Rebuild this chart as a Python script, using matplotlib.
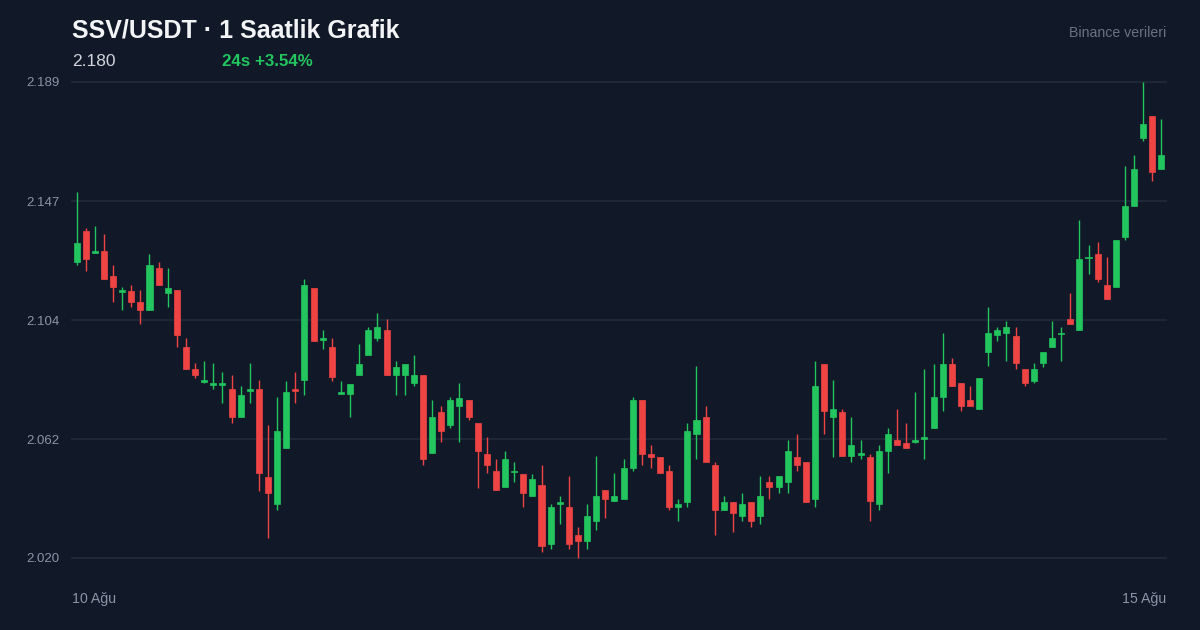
import matplotlib
matplotlib.use("Agg")
import matplotlib.pyplot as plt
from matplotlib.patches import Rectangle
import numpy as np

# ---- data (1h candles, SSV/USDT) ----
opens = [2.1252, 2.1361, 2.1284, 2.1290, 2.1200, 2.1143, 2.1149, 2.1110, 2.1081, 2.1230,
         2.1141, 2.1151, 2.0950, 2.0870, 2.0824, 2.0814, 2.0814, 2.0800, 2.0701, 2.0793,
         2.0800, 2.0489, 2.0392, 2.0592, 2.0800, 2.0832, 2.1160, 2.0974, 2.0949, 2.0784,
         2.0781, 2.0851, 2.0921, 2.0981, 2.1010, 2.0851, 2.0851, 2.0820, 2.0850, 2.0572,
         2.0720, 2.0671, 2.0741, 2.0760, 2.0679, 2.0569, 2.0510, 2.0451, 2.0504, 2.0500,
         2.0421, 2.0459, 2.0251, 2.0391, 2.0380, 2.0281, 2.0262, 2.0332, 2.0441, 2.0402,
         2.0411, 2.0521, 2.0760, 2.0569, 2.0560, 2.0510, 2.0382, 2.0400, 2.0641, 2.0700,
         2.0530, 2.0371, 2.0400, 2.0350, 2.0400, 2.0350, 2.0470, 2.0451, 2.0471, 2.0560,
         2.0540, 2.0411, 2.0890, 2.0702, 2.0720, 2.0562, 2.0565, 2.0560, 2.0392, 2.0581,
         2.0620, 2.0610, 2.0614, 2.0623, 2.0661, 2.0772, 2.0889, 2.0820, 2.0761, 2.0730,
         2.0932, 2.0991, 2.1000, 2.0989, 2.0870, 2.0830, 2.0891, 2.0950, 2.0994, 2.1050,
         2.1011, 2.1264, 2.1279, 2.1169, 2.1161, 2.1341, 2.1451, 2.1691, 2.1770, 2.1581]
highs = [2.1500, 2.1371, 2.1380, 2.1350, 2.1240, 2.1161, 2.1169, 2.1151, 2.1279, 2.1250,
         2.1230, 2.1152, 2.0980, 2.0891, 2.0900, 2.0891, 2.0861, 2.0850, 2.0811, 2.0891,
         2.0831, 2.0671, 2.0771, 2.0830, 2.0859, 2.1191, 2.1160, 2.1010, 2.0980, 2.0830,
         2.0819, 2.0960, 2.1020, 2.1070, 2.1050, 2.0901, 2.0890, 2.0921, 2.0850, 2.0761,
         2.0741, 2.0771, 2.0820, 2.0760, 2.0679, 2.0630, 2.0551, 2.0580, 2.0540, 2.0500,
         2.0500, 2.0530, 2.0391, 2.0420, 2.0490, 2.0310, 2.0391, 2.0561, 2.0441, 2.0501,
         2.0551, 2.0771, 2.0760, 2.0600, 2.0560, 2.0530, 2.0410, 2.0681, 2.0882, 2.0740,
         2.0540, 2.0420, 2.0400, 2.0430, 2.0400, 2.0491, 2.0491, 2.0490, 2.0620, 2.0640,
         2.0540, 2.0901, 2.0890, 2.0831, 2.0729, 2.0701, 2.0620, 2.0571, 2.0600, 2.0661,
         2.0730, 2.0679, 2.0790, 2.0870, 2.0890, 2.1000, 2.0910, 2.0820, 2.0811, 2.0840,
         2.1091, 2.1019, 2.1041, 2.1020, 2.0870, 2.0891, 2.0930, 2.1042, 2.1020, 2.1140,
         2.1400, 2.1310, 2.1321, 2.1270, 2.1330, 2.1591, 2.1631, 2.1890, 2.1770, 2.1760]
lows = [2.1241, 2.1220, 2.1282, 2.1191, 2.1110, 2.1081, 2.1090, 2.1031, 2.1081, 2.1170,
        2.1090, 2.0950, 2.0870, 2.0839, 2.0820, 2.0800, 2.0750, 2.0681, 2.0701, 2.0750,
        2.0439, 2.0271, 2.0371, 2.0592, 2.0752, 2.0780, 2.0972, 2.0941, 2.0830, 2.0784,
        2.0702, 2.0851, 2.0921, 2.0972, 2.0851, 2.0780, 2.0780, 2.0811, 2.0531, 2.0572,
        2.0611, 2.0661, 2.0611, 2.0691, 2.0450, 2.0501, 2.0442, 2.0451, 2.0471, 2.0381,
        2.0421, 2.0222, 2.0231, 2.0322, 2.0231, 2.0200, 2.0231, 2.0301, 2.0341, 2.0402,
        2.0411, 2.0510, 2.0530, 2.0521, 2.0501, 2.0372, 2.0330, 2.0381, 2.0551, 2.0541,
        2.0282, 2.0371, 2.0291, 2.0332, 2.0311, 2.0322, 2.0411, 2.0431, 2.0431, 2.0510,
        2.0400, 2.0381, 2.0641, 2.0560, 2.0561, 2.0541, 2.0551, 2.0330, 2.0372, 2.0501,
        2.0600, 2.0591, 2.0610, 2.0551, 2.0661, 2.0721, 2.0811, 2.0721, 2.0741, 2.0730,
        2.0881, 2.0972, 2.0901, 2.0871, 2.0811, 2.0820, 2.0879, 2.0950, 2.0901, 2.1031,
        2.1011, 2.1210, 2.1180, 2.1121, 2.1161, 2.1330, 2.1451, 2.1682, 2.1540, 2.1581]
closes = [2.1320, 2.1262, 2.1290, 2.1191, 2.1161, 2.1151, 2.1110, 2.1081, 2.1239, 2.1170,
          2.1160, 2.0991, 2.0870, 2.0850, 2.0831, 2.0820, 2.0820, 2.0701, 2.0779, 2.0800,
          2.0501, 2.0432, 2.0650, 2.0790, 2.0792, 2.1169, 2.0972, 2.0980, 2.0842, 2.0790,
          2.0819, 2.0889, 2.1010, 2.1020, 2.0851, 2.0879, 2.0890, 2.0850, 2.0552, 2.0701,
          2.0651, 2.0760, 2.0769, 2.0701, 2.0581, 2.0531, 2.0442, 2.0551, 2.0510, 2.0431,
          2.0480, 2.0243, 2.0380, 2.0400, 2.0251, 2.0261, 2.0350, 2.0420, 2.0411, 2.0420,
          2.0520, 2.0760, 2.0571, 2.0560, 2.0501, 2.0381, 2.0391, 2.0650, 2.0690, 2.0541,
          2.0372, 2.0400, 2.0361, 2.0391, 2.0332, 2.0420, 2.0451, 2.0490, 2.0580, 2.0530,
          2.0400, 2.0811, 2.0721, 2.0730, 2.0561, 2.0600, 2.0571, 2.0402, 2.0580, 2.0640,
          2.0600, 2.0591, 2.0620, 2.0630, 2.0771, 2.0890, 2.0811, 2.0741, 2.0741, 2.0840,
          2.1000, 2.1010, 2.1020, 2.0891, 2.0820, 2.0870, 2.0930, 2.0980, 2.1000, 2.1031,
          2.1261, 2.1270, 2.1191, 2.1121, 2.1330, 2.1450, 2.1580, 2.1740, 2.1572, 2.1630]

y_tick_labels = ["2.020", "2.062", "2.104", "2.147", "2.189"]
x_labels = ["10 Ağu", "15 Ağu"]
title = "SSV/USDT · 1 Saatlik Grafik"
last_price = "2.180"
change_txt = "24s +3.54%"
source_txt = "Binance verileri"

# ---- style ----
BG = "#111827"
GRID = "#1f2937"
UP = "#22c55e"
DOWN = "#ef4444"
TICK = "#8b95a5"
FONT = ["Liberation Sans", "DejaVu Sans"]
plt.rcParams["font.family"] = FONT

W, H = 1200, 630
fig = plt.figure(figsize=(W / 100, H / 100), dpi=100, facecolor=BG)
ax_l, ax_r, ax_t, ax_b = 72, 1166, 82, 558
ax = fig.add_axes([ax_l / W, 1 - ax_b / H, (ax_r - ax_l) / W, (ax_b - ax_t) / H])
ax.set_facecolor(BG)

n = len(opens)
lo, hi = min(lows), max(highs)
ax.set_xlim(-0.5, n - 0.5)
ax.set_ylim(lo, hi)
ticks = np.linspace(lo, hi, len(y_tick_labels))
ax.set_yticks(ticks)
for t in ticks:
    ax.axhline(t, color=GRID, lw=1.3, zorder=0, clip_on=False)
ax.set_yticklabels(y_tick_labels)
ax.tick_params(axis="y", length=0, pad=9, labelsize=9.5, labelcolor=TICK)
ax.set_xticks([])
for s in ax.spines.values():
    s.set_visible(False)

bw = 0.66
min_h = (hi - lo) * 0.004
for i in range(n):
    o, h, l, c = opens[i], highs[i], lows[i], closes[i]
    col = UP if c >= o else DOWN
    ax.vlines(i, l, h, color=col, lw=1.0, zorder=2, clip_on=False)
    b0 = min(o, c)
    bh = max(abs(c - o), min_h)
    if abs(c - o) < min_h:
        b0 = (o + c) / 2 - bh / 2
    ax.add_patch(Rectangle((i - bw / 2, b0), bw, bh, facecolor=col, edgecolor=col,
                           lw=0.5, zorder=3, clip_on=False))

# ---- texts ----
def fy(py):
    return 1 - py / H

fig.text(72 / W, fy(30), title, color="#f3f4f6", fontsize=18, fontweight="bold",
         va="center", ha="left")
fig.text(1166 / W, fy(33), source_txt, color="#6b7280", fontsize=10.2, va="center", ha="right")
fig.text(72 / W, fy(61), last_price, color="#d1d5db", fontsize=12.5, va="center", ha="left")
fig.text(222 / W, fy(61), change_txt, color=UP, fontsize=12.2, fontweight="bold",
         va="center", ha="left")
fig.text(72 / W, fy(599), x_labels[0], color=TICK, fontsize=10.2, va="center", ha="left")
fig.text(1166 / W, fy(599), x_labels[1], color=TICK, fontsize=10.2, va="center", ha="right")

fig.savefig("out.png", dpi=100, facecolor=BG)
